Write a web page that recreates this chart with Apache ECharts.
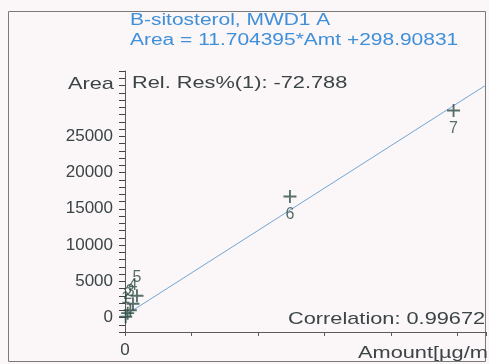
<!DOCTYPE html>
<html>
<head>
<meta charset="utf-8">
<script src="https://cdn.jsdelivr.net/npm/echarts@6/dist/echarts.min.js"></script>
<style>
html,body{margin:0;padding:0;background:#fbf6f7;}
#c{width:489px;height:364px;}
</style>
</head>
<body>
<div id="c"></div>
<script>
// ---- data ----
const pointLabels = ['1', '2', '3', '4', '5', '6', '7'];
const amounts = [5, 20, 40, 60, 90, 1240, 2470];          // Amount [µg/ml]
const areas   = [97, 600, 1000, 1900, 3000, 16690, 28550]; // Area
const slope = 11.704395;
const intercept = 298.90831;
const fitRange = [0, 2714];
const xAxisRange = [0, 2714];
const yAxisRange = [-2000, 34000];
const yLabelMax = 25000;
const titleLines = ['B-sitosterol, MWD1 A', 'Area = 11.704395*Amt +298.90831'];
const relResText = 'Rel. Res%(1): -72.788';
const correlationText = 'Correlation: 0.99672';
const yName = 'Area';
const xName = 'Amount[µg/ml]';

const fitLine = fitRange.map(x => [x, slope * x + intercept]);
const points = amounts.map((a, i) => ({
  value: [a, areas[i]],
  name: pointLabels[i],
  label: { position: i < 5 ? 'top' : 'bottom' }
}));

const txtColor = '#3b4446';
const markColor = '#2d4d45';
const blue = '#3f8fd9';
const SX = 1.28;

const chart = echarts.init(document.getElementById('c'), null, { renderer: 'canvas' });
chart.setOption({
  backgroundColor: '#fbf6f7',
  animation: false,
  grid: { left: 125, right: 3, top: 71, bottom: 32 },
  xAxis: {
    type: 'value',
    min: xAxisRange[0], max: xAxisRange[1], interval: 500,
    axisLine: { show: true, onZero: false, lineStyle: { color: '#5a5a5a', width: 1 } },
    axisTick: { show: true, inside: false, length: 4, lineStyle: { color: '#5a5a5a', width: 1 } },
    axisLabel: {
      margin: 10, color: txtColor, fontFamily: 'Liberation Sans', fontSize: 17,
      formatter: v => (v === 0 ? '0' : '')
    },
    splitLine: { show: false }
  },
  yAxis: {
    type: 'value',
    min: yAxisRange[0], max: yAxisRange[1], interval: 1000,
    axisLine: { show: true, onZero: false, lineStyle: { color: '#5a5a5a', width: 1 } },
    axisTick: { show: true, inside: false, length: 6, lineStyle: { color: '#444', width: 1 } },
    axisLabel: {
      margin: 12, color: txtColor, fontFamily: 'Liberation Sans', fontSize: 17,
      formatter: v => (v >= 0 && v <= yLabelMax && v % 5000 === 0 ? String(v) : '')
    },
    splitLine: { show: false }
  },
  series: [
    {
      type: 'line',
      data: fitLine,
      symbol: 'none',
      lineStyle: { color: '#72a6d4', width: 1 },
      z: 2
    },
    {
      type: 'scatter',
      data: points,
      symbol: 'path://M6,0H8V14H6Z M0,6H14V8H0Z',
      symbolSize: 13,
      itemStyle: { color: markColor },
      label: {
        show: true,
        formatter: p => p.name,
        distance: 4,
        color: markColor,
        fontFamily: 'Liberation Sans',
        fontSize: 16
      },
      z: 3
    }
  ],
  graphic: [
    { type: 'rect', shape: { x: 8.5, y: 11.5, width: 477, height: 350 },
      style: { fill: 'none', stroke: '#7a7a7a', lineWidth: 1 }, z: 0, silent: true },
    { type: 'text', x: 130, y: 21, scaleX: 1.31,
      style: { text: titleLines[0], fill: blue, font: '16px "Liberation Sans"', textVerticalAlign: 'middle' } },
    { type: 'text', x: 130, y: 41, scaleX: 1.31,
      style: { text: titleLines[1], fill: blue, font: '16px "Liberation Sans"', textVerticalAlign: 'middle' } },
    { type: 'text', x: 68, y: 84, scaleX: SX,
      style: { text: yName, fill: txtColor, font: '17px "Liberation Sans"', textVerticalAlign: 'middle' } },
    { type: 'text', x: 132, y: 83, scaleX: SX,
      style: { text: relResText, fill: txtColor, font: '17px "Liberation Sans"', textVerticalAlign: 'middle' } },
    { type: 'text', x: 288, y: 319, scaleX: SX,
      style: { text: correlationText, fill: txtColor, font: '17px "Liberation Sans"', textVerticalAlign: 'middle' } },
    { type: 'text', x: 358, y: 353, scaleX: SX,
      style: { text: xName, fill: txtColor, font: '17px "Liberation Sans"', textVerticalAlign: 'middle' } }
  ]
});
</script>
</body>
</html>
